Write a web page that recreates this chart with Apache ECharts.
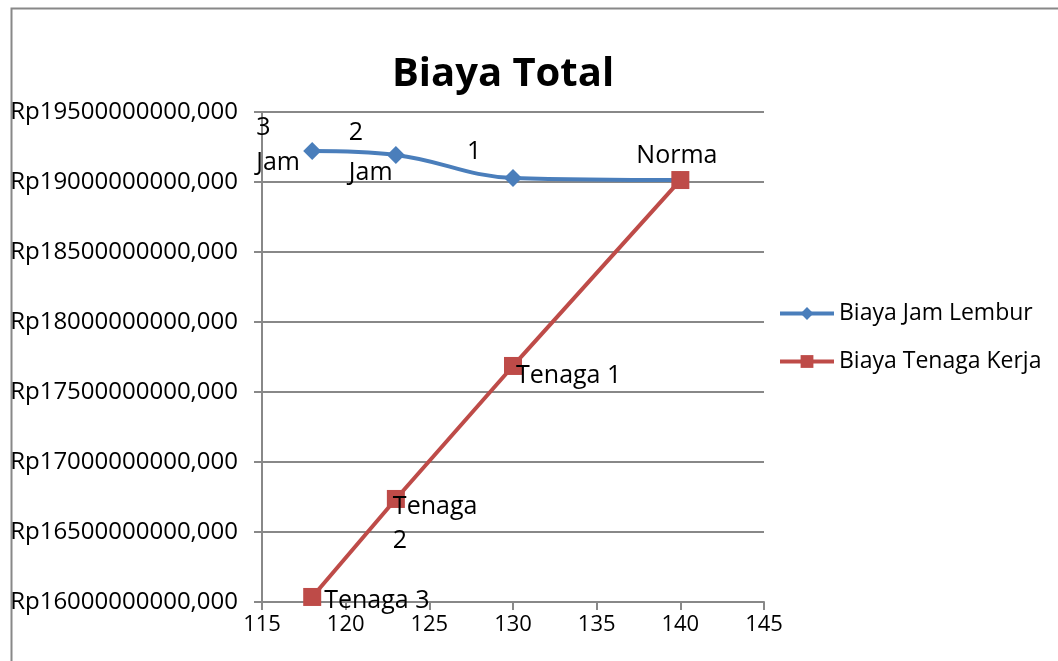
<!DOCTYPE html>
<html>
<head>
<meta charset="utf-8">
<script src="https://cdn.jsdelivr.net/npm/echarts@6/dist/echarts.min.js"></script>
<style>
  html, body { margin: 0; padding: 0; background: #fff; }
  #chart { width: 1058px; height: 661px; }
</style>
</head>
<body>
<div id="chart"></div>
<script>
// jam (x) values
const jamX = [118, 123, 130, 140];
// Biaya Jam Lembur
const lemburY = [19221000000, 19193000000, 19029000000, 19014000000];
const lemburLabels = ['3\nJam', '2\nJam', '1', 'Norma'];
// Biaya Tenaga Kerja
const tenagaY = [16036000000, 16736000000, 17686000000, 19014000000];
const tenagaLabels = ['Tenaga 3', 'Tenaga\n2', 'Tenaga 1', ''];

// label offsets (relative to symbol box)
const lemburPos = [[-47, 3], [-38, 7], [-37, -17], [-35, -15]];
const tenagaPos = [[21, 13], [6, 34], [12, 19], [0, 0]];

const FONT = '"Open Sans", sans-serif';

const myChart = echarts.init(document.getElementById('chart'));

function buildData(ys, labels, pos, lh) {
    return jamX.map((x, i) => ({
        value: [x, ys[i]],
        label: {
            show: labels[i] !== '',
            formatter: labels[i],
            position: pos[i],
            align: 'left',
            verticalAlign: 'middle',
            lineHeight: lh[i]
        }
    }));
}

const options = {
    backgroundColor: '#fff',
    animation: false,
    title: {
        text: 'Biaya Total',
        left: 498,
        top: 50,
        textAlign: 'center',
        textStyle: {
            fontFamily: FONT,
            fontSize: 40,
            fontWeight: 'bold',
            color: '#000'
        }
    },
    legend: {
        orient: 'vertical',
        left: 773,
        top: 297,
        itemWidth: 54,
        itemHeight: 16,
        itemGap: 25,
        lineStyle: { width: 4 },
        textStyle: { fontFamily: FONT, fontSize: 23, color: '#000' },
        data: ['Biaya Jam Lembur', 'Biaya Tenaga Kerja']
    },
    grid: { left: 262, right: 294, top: 112, bottom: 59 },
    xAxis: {
        type: 'value',
        min: 115,
        max: 145,
        interval: 5,
        splitLine: { show: false },
        axisLine: { show: true, onZero: false, lineStyle: { color: '#888', width: 2 } },
        axisTick: { show: true, length: 8, lineStyle: { color: '#888', width: 2 } },
        axisLabel: { color: '#000', fontFamily: FONT, fontSize: 22, margin: 12 }
    },
    yAxis: {
        type: 'value',
        min: 16000000000,
        max: 19500000000,
        interval: 500000000,
        axisLine: { show: true, lineStyle: { color: '#888', width: 2 } },
        axisTick: { show: true, length: 8, lineStyle: { color: '#888', width: 2 } },
        splitLine: { lineStyle: { color: '#888', width: 2 } },
        axisLabel: {
            color: '#000',
            fontFamily: FONT,
            fontSize: 24,
            margin: 24,
            formatter: v => 'Rp' + v + ',000'
        }
    },
    series: [
        {
            name: 'Biaya Jam Lembur',
            type: 'line',
            smooth: 0.4,
            symbol: 'diamond',
            symbolSize: 18,
            data: buildData(lemburY, lemburLabels, lemburPos, [35, 40, 30, 30]),
            itemStyle: { color: '#4a7ebb' },
            lineStyle: { color: '#4a7ebb', width: 4 },
            label: { color: '#000', fontFamily: FONT, fontSize: 25 }
        },
        {
            name: 'Biaya Tenaga Kerja',
            type: 'line',
            symbol: 'rect',
            symbolSize: 18,
            data: buildData(tenagaY, tenagaLabels, tenagaPos, [30, 34, 30, 30]),
            itemStyle: { color: '#be4b48' },
            lineStyle: { color: '#be4b48', width: 4 },
            label: { color: '#000', fontFamily: FONT, fontSize: 25 }
        }
    ],
    graphic: [
        {
            type: 'rect',
            left: 9,
            top: 6,
            shape: { width: 1100, height: 700 },
            style: { fill: null, stroke: '#888', lineWidth: 2 },
            silent: true
        }
    ]
};

myChart.setOption(options);
</script>
</body>
</html>
